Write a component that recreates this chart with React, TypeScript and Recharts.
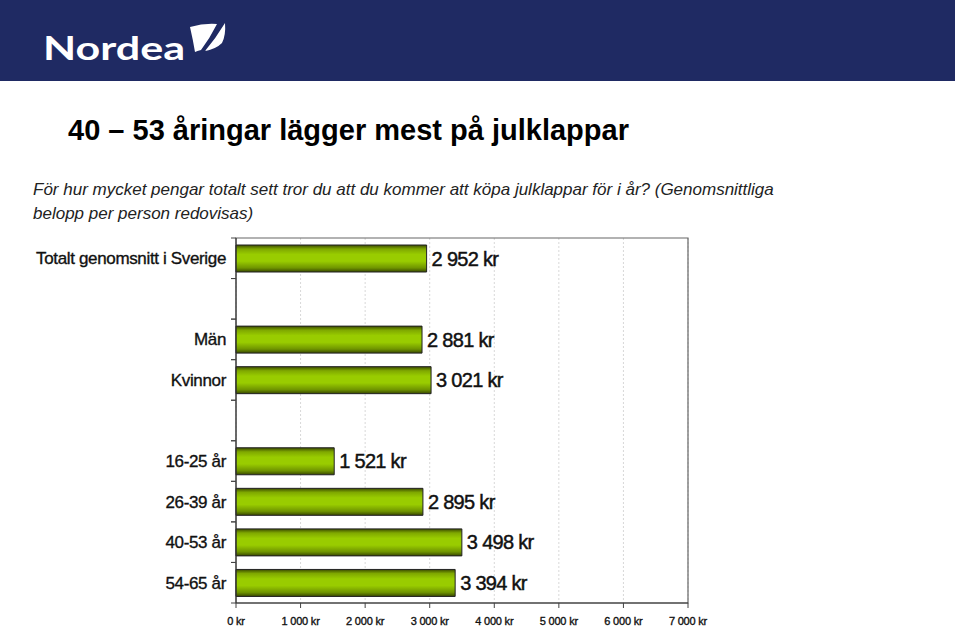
import React from "react";
import {
  BarChart,
  Bar,
  XAxis,
  YAxis,
  CartesianGrid,
  LabelList,
  ReferenceArea,
} from "recharts";

const categories = [
  "Totalt genomsnitt i Sverige",
  "",
  "Män",
  "Kvinnor",
  " ",
  "16-25 år",
  "26-39 år",
  "40-53 år",
  "54-65 år",
];
const values: (number | null)[] = [2952, null, 2881, 3021, null, 1521, 2895, 3498, 3394];
const xTicks = [0, 1000, 2000, 3000, 4000, 5000, 6000, 7000];

const data = categories.map((name, i) => ({ name, value: values[i] }));

const W = 959;
const H = 628;
const PLOT_LEFT = 236;
const PLOT_RIGHT = 688;
const PLOT_TOP = 238;
const PLOT_BOTTOM = 603;
const BAND = (PLOT_BOTTOM - PLOT_TOP) / categories.length;
const FONT = "Arial, 'Liberation Sans', Helvetica, sans-serif";

const fmt = (v: any) => {
  if (v === null || v === undefined || v === "") return "";
  return String(v).replace(/\B(?=(\d{3})+(?!\d))/g, " ") + " kr";
};

const CatTick = (props: any) => {
  const { y, payload } = props;
  return (
    <g>
      <text
        x={PLOT_LEFT - 10}
        y={y}
        dy="0.35em"
        textAnchor="end"
        fontFamily={FONT}
        fontSize={17}
        fill="#111"
        stroke="#111"
        strokeWidth={0.35}
        letterSpacing={-0.35}
      >
        {payload.value}
      </text>
      <line x1={PLOT_LEFT - 5} x2={PLOT_LEFT} y1={y - BAND / 2} y2={y - BAND / 2} stroke="#444" />
      <line x1={PLOT_LEFT - 5} x2={PLOT_LEFT} y1={y + BAND / 2} y2={y + BAND / 2} stroke="#444" />
    </g>
  );
};

export default function App() {
  return (
    <div
      style={{
        position: "absolute",
        left: 0,
        top: 0,
        width: W,
        height: H,
        overflow: "hidden",
        background: "#fff",
      }}
    >
      <svg
        width={W}
        height={H}
        style={{ position: "absolute", left: 0, top: 0 }}
      >
        <rect x={0} y={0} width={955} height={81} fill="#1f2a63" />
        <text
          x={43}
          y={60}
          fill="#fff"
          fontFamily="Lato, 'Open Sans', sans-serif"
          fontWeight={700}
          fontSize={32}
          textLength={142}
          lengthAdjust="spacingAndGlyphs"
        >
          Nordea
        </text>
        <path
          d="M190,27 Q204,23 217,24 Q210,38 201,50 Q197,51 195,52 Q193,40 190,27 Z"
          fill="#fff"
        />
        <path d="M225,23 Q226,35 222,43 Q216,49 205,51 Q216,38 225,23 Z" fill="#fff" />
        <text x={68} y={140} fontFamily={FONT} fontWeight={700} fontSize={29} fill="#000">
          40 – 53 åringar lägger mest på julklappar
        </text>
        <text x={33} y={195} fontFamily={FONT} fontStyle="italic" fontSize={17} fill="#222">
          För hur mycket pengar totalt sett tror du att du kommer att köpa julklappar för i år? (Genomsnittliga
        </text>
        <text x={33} y={219} fontFamily={FONT} fontStyle="italic" fontSize={17} fill="#222">
          belopp per person redovisas)
        </text>
      </svg>
      <div style={{ position: "absolute", left: 0, top: 0 }}>
        <BarChart
          width={W}
          height={H}
          data={data}
          layout="vertical"
          margin={{
            top: PLOT_TOP,
            right: W - PLOT_RIGHT,
            bottom: 0,
            left: PLOT_LEFT - 230,
          }}
          barCategoryGap={0}
        >
          <defs>
            <linearGradient id="barGrad" x1="0" y1="0" x2="0" y2="1">
              <stop offset="0%" stopColor="#3b4a00" />
              <stop offset="15%" stopColor="#7fa800" />
              <stop offset="35%" stopColor="#99cc00" />
              <stop offset="60%" stopColor="#99cc00" />
              <stop offset="85%" stopColor="#6f9400" />
              <stop offset="100%" stopColor="#384700" />
            </linearGradient>
          </defs>
          <CartesianGrid
            horizontal={false}
            vertical={true}
            stroke="#d8d8d8"
            strokeDasharray="2 2"
          />
          <ReferenceArea x1={0} x2={7000} fill="none" stroke="#666" strokeWidth={1.2} ifOverflow="visible" />
          <XAxis
            type="number"
            domain={[0, 7000]}
            ticks={xTicks}
            interval={0}
            height={H - PLOT_BOTTOM}
            tickFormatter={fmt}
            tickSize={5}
            tickMargin={9}
            axisLine={{ stroke: "#333" }}
            tickLine={{ stroke: "#444" }}
            tick={{
              fontFamily: FONT,
              fontSize: 11,
              fill: "#111",
              stroke: "#111",
              strokeWidth: 0.35,
              letterSpacing: -0.2,
            }}
          />
          <YAxis
            type="category"
            dataKey="name"
            width={230}
            interval={0}
            tickLine={false}
            axisLine={{ stroke: "#333" }}
            tick={(p: any) => <CatTick {...p} />}
          />
          <Bar
            dataKey="value"
            barSize={27}
            fill="url(#barGrad)"
            stroke="#222"
            strokeWidth={1}
            isAnimationActive={false}
          >
            <LabelList
              dataKey="value"
              position="right"
              offset={5}
              formatter={fmt}
              style={{
                fontFamily: FONT,
                fontSize: 20,
                fill: "#111",
                stroke: "#111",
                strokeWidth: 0.45,
                letterSpacing: -0.7,
              }}
            />
          </Bar>
        </BarChart>
      </div>
    </div>
  );
}
